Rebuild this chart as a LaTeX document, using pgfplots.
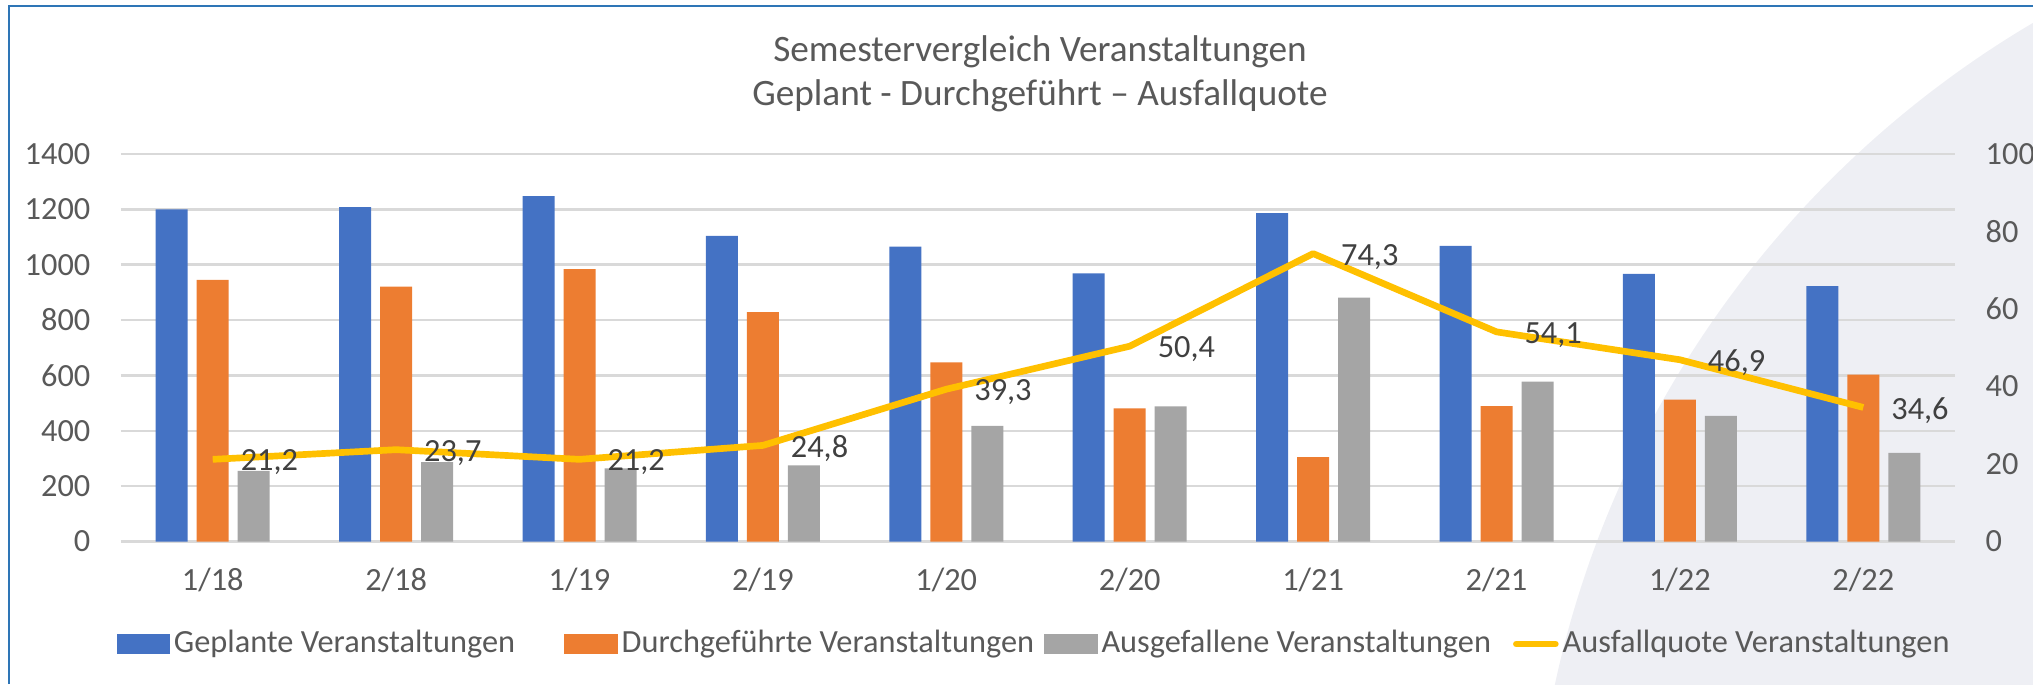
\documentclass[border=0pt]{standalone}
\usepackage{fontspec}
\setmainfont{Carlito}
\usepackage{pgfplots}
\usepackage{pgfplotstable}
\pgfplotsset{compat=1.18}
\definecolor{cBlue}{HTML}{4472C4}
\definecolor{cOrange}{HTML}{ED7D31}
\definecolor{cGray}{HTML}{A5A5A5}
\definecolor{cYellow}{HTML}{FFC000}
\definecolor{cText}{HTML}{595959}
\definecolor{cLabel}{HTML}{404040}
\definecolor{cGrid}{HTML}{D9D9D9}
\definecolor{cArc}{HTML}{EEEFF4}
\definecolor{cBorder}{HTML}{2E75B6}
\newcommand\smallfont{\fontsize{9.2}{11}\selectfont}
\newcommand\titlefont{\fontsize{10.6}{12.6}\selectfont}

\pgfplotstableread{
x geplant durch ausg quote
0 1200 945 255 21.2
1 1208 921 287 23.7
2 1248 984 264 21.2
3 1104 829 275 24.8
4 1065 647 418 39.3
5 969 481 488 50.4
6 1186 305 881 74.3
7 1068 489 578 54.1
8 967 513 454 46.9
9 923 603 320 34.6
}\datatable

\begin{document}
\begin{tikzpicture}
\useasboundingbox (0,0) rectangle (203.3mm,68.4mm);
\begin{scope}
\clip (0,0) rectangle (203.3mm,68.4mm);
\fill[cArc] (255mm,-21.6mm) circle (101.8mm);
\end{scope}
\draw[cBorder, line width=0.6pt] (0.9mm,0mm) -- (0.9mm,67.8mm) -- (203.3mm,67.8mm);
\node[text=cText, font=\titlefont] at (104mm,63.2mm) {Semestervergleich Veranstaltungen};
\node[text=cText, font=\titlefont] at (104mm,58.8mm) {Geplant - Durchgeführt – Ausfallquote};

\begin{axis}[
  at={(12.1mm,14.25mm)}, anchor=south west,
  scale only axis, width=183.4mm, height=38.75mm,
  xmin=-0.5, xmax=9.5, ymin=0, ymax=1400,
  ybar=0.9mm, bar width=3.2mm,
  xtick={0,...,9},
  xticklabels={1/18,2/18,1/19,2/19,1/20,2/20,1/21,2/21,1/22,2/22},
  ytick={0,200,...,1400},
  ymajorgrids, grid style={cGrid, line width=0.7pt},
  axis x line*=bottom, axis y line*=left,
  x axis line style={cGrid, line width=0.7pt, -},
  y axis line style={draw=none},
  major tick length=0pt,
  tick label style={font=\smallfont, text=cText},
  xticklabel style={anchor=base, yshift=-4.9mm, inner sep=0pt},
  yticklabel style={anchor=east, inner sep=0pt, xshift=-3mm},
  /pgf/number format/assume math mode=true,
  /pgf/number format/set thousands separator={},
  clip=false,
]
\addplot[fill=cBlue, draw=none] table[x=x,y=geplant]{\datatable};
\addplot[fill=cOrange, draw=none] table[x=x,y=durch]{\datatable};
\addplot[fill=cGray, draw=none] table[x=x,y=ausg]{\datatable};
\end{axis}

\begin{axis}[
  at={(12.1mm,14.25mm)}, anchor=south west,
  scale only axis, width=183.4mm, height=38.75mm,
  xmin=-0.5, xmax=9.5, ymin=0, ymax=100,
  axis x line=none,
  axis y line*=right, y axis line style={draw=none},
  major tick length=0pt,
  ytick={0,20,...,100},
  tick label style={font=\smallfont, text=cText},
  yticklabel style={anchor=west, inner sep=0pt, xshift=3mm},
  /pgf/number format/assume math mode=true,
  clip=false,
  legend columns=4,
  legend style={at={(0.4984,-0.2645)}, anchor=center, draw=none, fill=none,
    font=\smallfont, text=cText, cells={anchor=west},
    nodes={inner sep=0.4mm},
    /tikz/column 2/.style={column sep=4.5mm},
    /tikz/column 4/.style={column sep=0.6mm},
    /tikz/column 6/.style={column sep=1.8mm}},
]
\addlegendimage{legend image code/.code={\fill[cBlue] (0mm,-0.9mm) rectangle (5.2mm,0.9mm);}}
\addlegendentry{Geplante Veranstaltungen}
\addlegendimage{legend image code/.code={\fill[cOrange] (0mm,-0.9mm) rectangle (5.2mm,0.9mm);}}
\addlegendentry{Durchgeführte Veranstaltungen}
\addlegendimage{legend image code/.code={\fill[cGray] (0mm,-0.9mm) rectangle (5.2mm,0.9mm);}}
\addlegendentry{Ausgefallene Veranstaltungen}
\addplot[cYellow, line width=1.9pt, line join=round, mark=none,
  legend image code/.code={\draw[cYellow, line width=1.9pt, line cap=round] (0mm,0mm) -- (3.9mm,0mm);},
  nodes near coords={\pgfmathprintnumber[fixed,precision=1,fixed zerofill,use comma]{\pgfplotspointmeta}},
  every node near coord/.append style={anchor=west, xshift=1.3mm, yshift=-0.3mm, text=cLabel, font=\smallfont}]
  table[x=x,y=quote]{\datatable};
\addlegendentry{Ausfallquote Veranstaltungen}
\end{axis}
\end{tikzpicture}
\end{document}
